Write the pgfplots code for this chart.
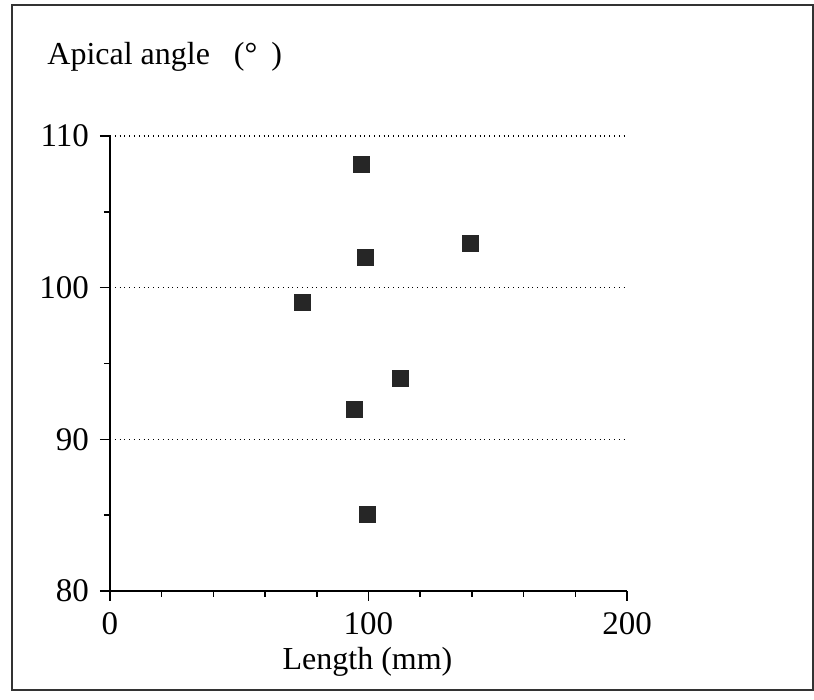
\documentclass[border=0pt]{standalone}
\usepackage{pgfplots}
\pgfplotsset{compat=1.18}
\usepackage{fontspec}
\setmainfont{Liberation Serif}

\begin{document}
\fontsize{16}{19}\selectfont
\begin{tikzpicture}
  \useasboundingbox (-55pt,-54.5pt) rectangle (352pt,295.5pt);
  % frame round the whole figure
  \draw[line width=0.9pt, black!80] (-49pt,-49.5pt) rectangle (351.5pt,293pt);

  \begin{axis}[
    scale only axis,
    width=258.5pt, height=227.5pt,
    at={(0,0)}, anchor=south west,
    xmin=0, xmax=200, ymin=80, ymax=110,
    axis x line*=bottom, axis y line*=left,
    axis line style={line width=1pt, black},
    xtick={0,100,200}, ytick={80,90,100,110},
    minor xtick={20,40,60,80,120,140,160,180},
    minor ytick={85,95,105},
    tick align=outside,
    major tick length=5pt, minor tick length=3pt,
    tick style={line width=0.8pt, black},
    ymajorgrids,
    major grid style={dotted, line width=0.8pt, black},
    /pgf/number format/assume math mode=true,
    tick label style={font=\fontsize{16.5}{20}\selectfont},
    clip=false,
  ]
    \addplot[only marks, mark=square*, mark size=4pt,
             mark options={fill=black!85, draw=black!85}]
      coordinates {
        (97.2,108.1) (98.8,102.0) (139.5,102.9) (74.5,99.0)
        (112.5,94.0) (94.6,92.0) (99.5,85.05)
      };
  \end{axis}

  \node[anchor=base west, inner sep=0pt]
    at (-31.5pt,263pt) {Apical angle\hspace{12pt}(°\hspace{7pt})};
  \node[anchor=base, inner sep=0pt]
    at (128.75pt,-39.5pt) {Length (mm)};
\end{tikzpicture}
\end{document}
